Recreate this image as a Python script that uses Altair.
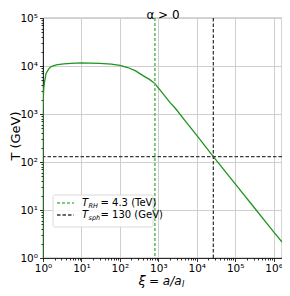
import altair as alt
import pandas as pd

# ---- data ----
xi = [1.0, 1.0005, 1.002, 1.006, 1.02, 1.05, 1.09, 1.2, 1.4, 1.6, 2.0, 2.4, 3.5, 5.3,
      10, 16, 30, 60, 100, 160, 250, 400, 600, 815, 1200, 2000, 2800, 5000, 1e4,
      2.7e4, 1e5, 3e5, 1e6, 1.65e6]
T = [1.0, 80, 400, 1200, 2300, 3500, 4500, 7000, 8600, 9600, 10300, 10700, 11100, 11300,
     11600, 11500, 11300, 10900, 10300, 9300, 8000, 6300, 5200, 4300, 2920, 1750, 1300, 720, 360,
     130, 35, 11.7, 3.5, 2.15]
xi_RH = [815]
xi_sph = [2.7e4]
T_sph = [130]

x_major = [1, 10, 100, 1e3, 1e4, 1e5, 1e6]
y_major = [1, 10, 100, 1e3, 1e4, 1e5]
x_ticks = sorted(x_major + [m * 10 ** d for d in range(0, 6) for m in range(2, 10)])
y_ticks = sorted(y_major + [m * 10 ** d for d in range(0, 5) for m in range(2, 10)])

FONT = "DejaVu Sans"
GREEN = "#1f941f"
LGREEN = "#5cb85c"
DARK = "#3a3a3a"

is_major = "abs(log(datum.value)/LN10 - round(log(datum.value)/LN10)) < 0.000001"
sup_label = ("abs(log(datum.value)/LN10 - round(log(datum.value)/LN10)) < 0.000001 ? "
             "'10' + ['⁰','¹','²','³','⁴','⁵','⁶'][round(log(datum.value)/LN10)] : ''")

xscale = alt.Scale(type="log", domain=[1, 1.65e6], nice=False)
yscale = alt.Scale(type="log", domain=[1, 1e5], nice=False)

def axis(vals, orient):
    return alt.Axis(
        values=vals, title=None, orient=orient, labelExpr=sup_label,
        labelFont=FONT, labelFontSize=10.5, labelColor="black", labelPadding=2,
        labelFlush=False, labelOverlap=False,
        tickSize={"condition": {"test": is_major, "value": 3.5}, "value": 2},
        tickColor="black", tickWidth=0.8,
        grid=True, gridColor="#cfcfcf", gridWidth=1,
        gridOpacity={"condition": {"test": is_major, "value": 1}, "value": 0},
        domainColor="black", domainWidth=0.8,
    )

df = pd.DataFrame({"xi": xi, "T": T})
curve = alt.Chart(df).mark_line(color=GREEN, strokeWidth=1.3, clip=True).encode(
    x=alt.X("xi:Q", scale=xscale, axis=axis(x_ticks, "bottom")),
    y=alt.Y("T:Q", scale=yscale, axis=axis(y_ticks, "left")),
)

vrh = alt.Chart(pd.DataFrame({"x": xi_RH})).mark_rule(
    color=LGREEN, strokeWidth=1.5, strokeDash=[3, 2]).encode(x=alt.X("x:Q", scale=xscale))
vsph = alt.Chart(pd.DataFrame({"x": xi_sph})).mark_rule(
    color=DARK, strokeWidth=1.3, strokeDash=[3.5, 2]).encode(x=alt.X("x:Q", scale=xscale))
hsph = alt.Chart(pd.DataFrame({"y": T_sph})).mark_rule(
    color=DARK, strokeWidth=1.3, strokeDash=[3.5, 2]).encode(y=alt.Y("y:Q", scale=yscale))

one = pd.DataFrame({"a": [0]})

def txt(s, x, y, size=10, style="normal", angle=0, align="left", baseline="middle"):
    return alt.Chart(one).mark_text(
        text=s, font=FONT, fontSize=size, fontStyle=style, angle=angle,
        align=align, baseline=baseline, color="black").encode(
        x=alt.value(x), y=alt.value(y))

# legend
box = alt.Chart(one).mark_rect(fill="white", fillOpacity=0.85, stroke="#d0d0d0",
                               strokeWidth=0.8, cornerRadius=2).encode(
    x=alt.value(10), x2=alt.value(110), y=alt.value(177), y2=alt.value(209))
l1 = alt.Chart(one).mark_rule(color=LGREEN, strokeWidth=1.5, strokeDash=[3, 2]).encode(
    x=alt.value(14), x2=alt.value(31), y=alt.value(185))
l2 = alt.Chart(one).mark_rule(color=DARK, strokeWidth=1.3, strokeDash=[3.5, 2]).encode(
    x=alt.value(14), x2=alt.value(31), y=alt.value(197))

layers = [
    curve, vrh, vsph, hsph, box, l1, l2,
    txt("T", 39, 185, 10, "italic"), txt("RH", 45.5, 188, 6.5, "italic"),
    txt("= 4.3 (TeV)", 57.5, 185, 10),
    txt("T", 39, 197, 10, "italic"), txt("sph", 45.5, 200, 6.5, "italic"),
    txt("= 130 (GeV)", 57.5, 197, 10),
    # titles
    txt("α > 0", 120, -3, 12, align="center"),
    txt("T (GeV)", -27, 118, 13, angle=270, align="center"),
    txt("ξ", 99, 263, 13, "italic", align="center"),
    txt("= a/a", 106, 263, 12, "italic", align="left"),
    txt("I", 139, 266.5, 8, "italic", align="left"),
]

chart = alt.layer(*layers).properties(
    width=239, height=240,
    autosize=alt.AutoSizeParams(type="none"),
    padding={"left": 35, "top": 10, "right": 0, "bottom": 30},
).configure_view(stroke="black", strokeWidth=0.8)

chart.save("out.html", embed_options={"renderer": "svg", "actions": False})
